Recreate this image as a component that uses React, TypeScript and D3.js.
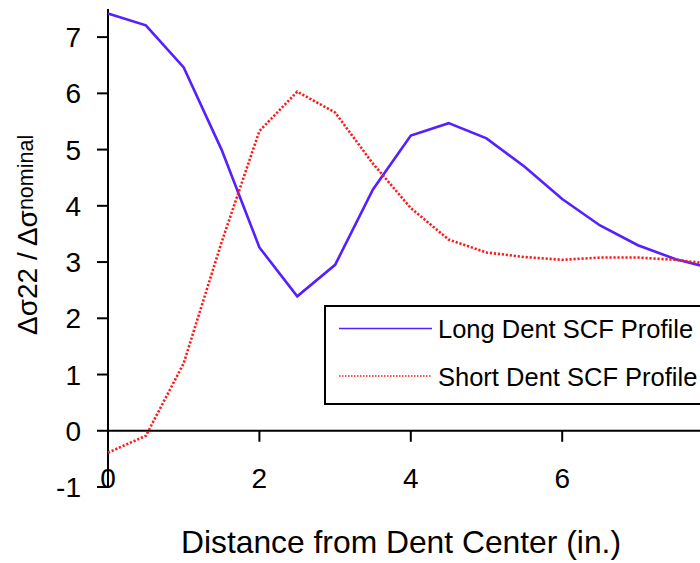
import React from "react";
import * as d3 from "d3";

const distance = [0, 0.5, 1, 1.5, 2, 2.5, 3, 3.5, 4, 4.5, 5, 5.5, 6, 6.5, 7, 7.5, 8];
const longDentSCF = [7.42, 7.21, 6.46, 5.0, 3.26, 2.39, 2.95, 4.29, 5.25, 5.47, 5.2, 4.7, 4.12, 3.65, 3.3, 3.05, 2.88];
const shortDentSCF = [-0.39, -0.09, 1.2, 3.35, 5.33, 6.03, 5.66, 4.75, 3.96, 3.4, 3.17, 3.09, 3.04, 3.08, 3.08, 3.04, 2.96];
const xTicks = [0, 2, 4, 6];
const yTicks = [-1, 0, 1, 2, 3, 4, 5, 6, 7];
const seriesNames = ["Long Dent SCF Profile", "Short Dent SCF Profile"];

const W = 700;
const H = 563;
const FONT = "'Liberation Sans', Arial, Helvetica, sans-serif";
const BLUE = "#5420ff";
const RED = "#ff1a1a";

export default function App() {
  const x = d3.scaleLinear().domain([0, 8]).range([108, 713.6]);
  const y = d3.scaleLinear().domain([-1, 7.5]).range([487, 9]);

  const line = d3
    .line<number>()
    .x((_, i) => x(distance[i]))
    .y((d) => y(d));

  return (
    <svg
      width={W}
      height={H}
      style={{ position: "absolute", left: 0, top: 0, background: "#fff" }}
      fontFamily={FONT}
    >
      <rect x={0} y={0} width={W} height={H} fill="#fff" />

      {/* y axis */}
      <line x1={x(0)} x2={x(0)} y1={y(7.5)} y2={y(-1)} stroke="#000" strokeWidth={2} />
      {yTicks.map((t) => (
        <g key={"y" + t}>
          <line x1={x(0) - 11} x2={x(0)} y1={y(t)} y2={y(t)} stroke="#000" strokeWidth={2} />
          <text x={81} y={y(t)} dy="0.36em" textAnchor="end" fontSize={28} fill="#000">
            {t}
          </text>
        </g>
      ))}

      {/* x axis along y = 0, running past the right edge */}
      <line x1={x(0)} x2={W + 20} y1={y(0)} y2={y(0)} stroke="#000" strokeWidth={2} />
      {xTicks.map((t) => (
        <g key={"x" + t}>
          <line x1={x(t)} x2={x(t)} y1={y(0)} y2={y(0) + 11} stroke="#000" strokeWidth={2} />
          <text x={x(t)} y={488} textAnchor="middle" fontSize={28} fill="#000">
            {t}
          </text>
        </g>
      ))}

      {/* series */}
      <path d={line(longDentSCF) || ""} fill="none" stroke={BLUE} strokeWidth={2.6} />
      <path
        d={line(shortDentSCF) || ""}
        fill="none"
        stroke={RED}
        strokeWidth={2.6}
        strokeDasharray="2.2 1.8"
      />

      {/* legend */}
      <rect x={325} y={306} width={420} height={98} fill="#fff" stroke="#000" strokeWidth={2} />
      <line x1={339} x2={432} y1={328.5} y2={328.5} stroke={BLUE} strokeWidth={1.6} />
      <line x1={339} x2={432} y1={376} y2={376} stroke={RED} strokeWidth={1.6} strokeDasharray="1.5 1.5" />
      <text x={438} y={338} fontSize={25.5} fill="#000">
        {seriesNames[0]}
      </text>
      <text x={438} y={385.5} fontSize={25.5} fill="#000">
        {seriesNames[1]}
      </text>

      {/* axis titles */}
      <text x={401} y={553} textAnchor="middle" fontSize={31.8} fill="#000">
        Distance from Dent Center (in.)
      </text>
      <text transform="translate(37,335) rotate(-90)" fontSize={28} fill="#000">
        Δσ22 / Δσ
        <tspan fontSize={21.5} dy={-4}>
          nominal
        </tspan>
      </text>
    </svg>
  );
}
